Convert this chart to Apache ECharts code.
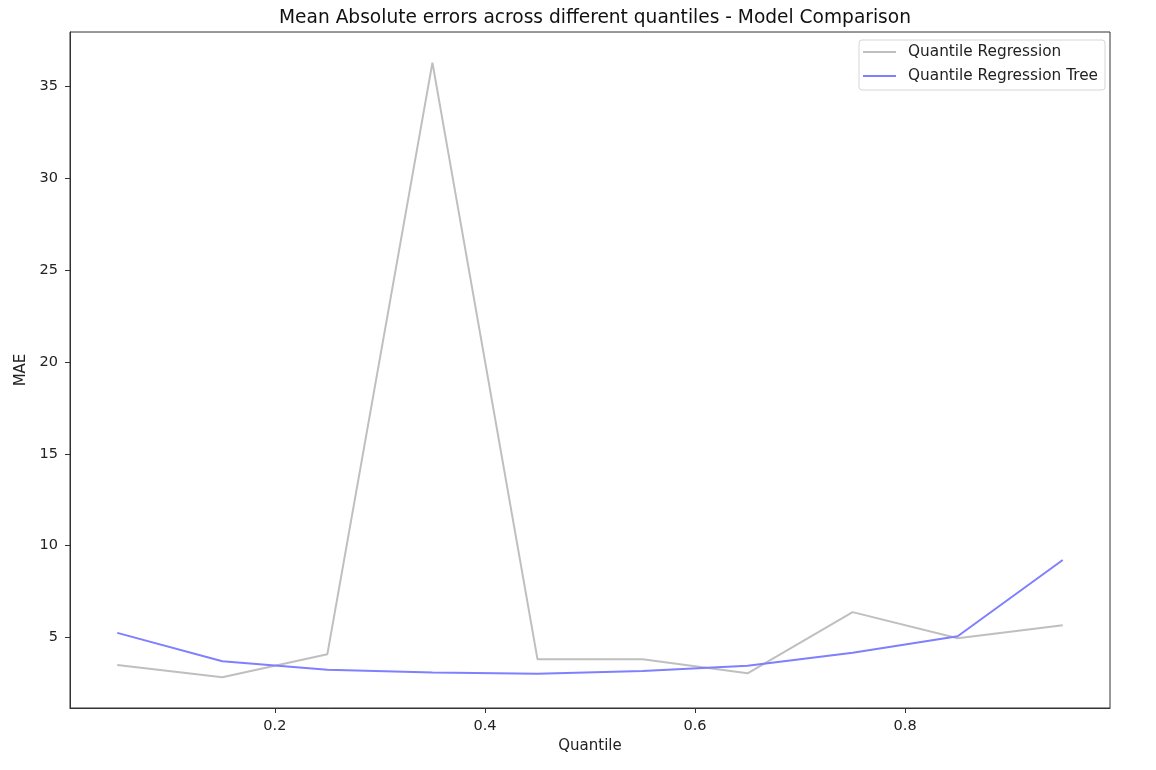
<!DOCTYPE html>
<html><head><meta charset="utf-8">
<script src="https://cdn.jsdelivr.net/npm/echarts@6/dist/echarts.min.js"></script>
<style>html,body{margin:0;padding:0;background:#fff}#c{width:1156px;height:770px}</style>
</head><body><div id="c"></div>
<script>
const quantiles = [0.05, 0.15, 0.25, 0.35, 0.45, 0.55, 0.65, 0.75, 0.85, 0.95];
const qrMAE = [3.5, 2.83, 4.09, 36.3, 3.82, 3.82, 3.05, 6.38, 4.96, 5.67];
const qrtMAE = [5.25, 3.71, 3.24, 3.09, 3.02, 3.18, 3.46, 4.17, 5.07, 9.22];
const xTicks = [0.2, 0.4, 0.6, 0.8];
const yTicks = [5, 10, 15, 20, 25, 30, 35];

const font = 'DejaVu Sans';
const chart = echarts.init(document.getElementById('c'), null, {renderer: 'canvas'});
chart.setOption({
  animation: false,
  backgroundColor: '#fff',
  title: {
    text: 'Mean Absolute errors across different quantiles - Model Comparison',
    left: 590, top: 4, textAlign: 'center',
    textStyle: {fontFamily: font, fontSize: 18.6, fontWeight: 'normal', color: '#111'}
  },
  legend: {
    orient: 'vertical', right: 51, top: 40,
    backgroundColor: '#fff', borderColor: '#d6d6d6', borderWidth: 1, borderRadius: 3,
    padding: [3, 7, 5, 4], itemGap: 6, itemWidth: 33, itemHeight: 2, icon: 'rect',
    formatter: name => '{s|}' + name,
    textStyle: {fontFamily: font, fontSize: 15.3, lineHeight: 18, color: '#222',
      rich: {s: {width: 7}}},
    data: ['Quantile Regression', 'Quantile Regression Tree']
  },
  grid: {left: 70, right: 46, top: 32, bottom: 62, show: true, borderColor: '#333', borderWidth: 1, backgroundColor: 'transparent'},
  xAxis: {
    type: 'value', min: 0.005, max: 0.995,
    name: 'Quantile', nameLocation: 'middle', nameGap: 31,
    nameTextStyle: {fontFamily: font, fontSize: 15, color: '#222'},
    axisLine: {show: true, lineStyle: {color: '#333'}},
    axisTick: {show: true, length: 5, customValues: xTicks, lineStyle: {color: '#333'}},
    axisLabel: {customValues: xTicks, fontFamily: font, fontSize: 14.5, color: '#222', margin: 11},
    splitLine: {show: false}
  },
  yAxis: {
    type: 'value', min: 1.16, max: 37.97,
    name: 'MAE', nameLocation: 'middle', nameGap: 40, nameRotate: 90,
    nameTextStyle: {fontFamily: font, fontSize: 15, color: '#222'},
    axisLine: {show: true, lineStyle: {color: '#333'}},
    axisTick: {show: true, length: 5, customValues: yTicks, lineStyle: {color: '#333'}},
    axisLabel: {customValues: yTicks, fontFamily: font, fontSize: 14.5, color: '#222', margin: 12},
    splitLine: {show: false}
  },
  series: [
    {
      name: 'Quantile Regression', type: 'line', symbol: 'none',
      data: quantiles.map((q, i) => [q, qrMAE[i]]),
      lineStyle: {color: '#bfbfbf', width: 2}, itemStyle: {color: '#bfbfbf'}
    },
    {
      name: 'Quantile Regression Tree', type: 'line', symbol: 'none',
      data: quantiles.map((q, i) => [q, qrtMAE[i]]),
      lineStyle: {color: '#7f7fff', width: 2}, itemStyle: {color: '#7f7fff'}
    }
  ]
});
</script></body></html>
